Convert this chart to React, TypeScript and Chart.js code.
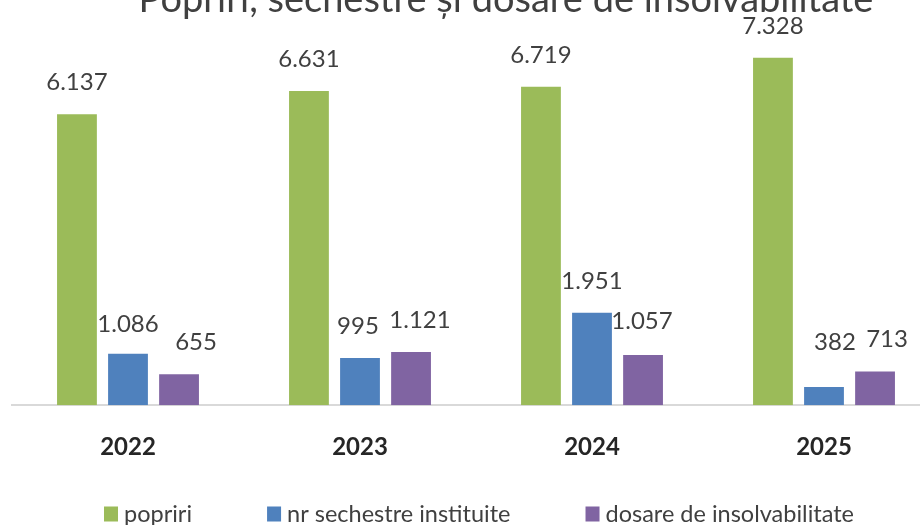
import React, { useEffect, useRef } from "react";
import { Chart, registerables } from "chart.js";

Chart.register(...registerables);

const categories = ["2022", "2023", "2024", "2025"];
const seriesNames = ["popriri", "nr sechestre instituite", "dosare de insolvabilitate"];
const popriri = [6137, 6631, 6719, 7328];
const sechestre = [1086, 995, 1951, 382];
const insolvabilitate = [655, 1121, 1057, 713];
const chartTitle = "Popriri, sechestre și dosare de insolvabilitate";

const colors = ["#9BBB59", "#4F81BD", "#8064A2"];
const FONT = "Lato, 'Open Sans', sans-serif";
const TEXT = "#404040";

const fmt = (v: number) => String(v).replace(/\B(?=(\d{3})+(?!\d))/g, ".");

// small hand nudges for data labels (dx, dy), keyed dataset-index
const labelNudges: Record<string, [number, number]> = {
  "1-0": [0, 2],
  "2-0": [17, 0],
  "1-1": [-2, 0],
  "2-1": [9, 0],
  "2-2": [-1, -2],
  "1-3": [11, -13],
  "2-3": [12, 0],
};

const titlePlugin = {
  id: "cutTitle",
  afterDraw(chart: any) {
    const ctx = chart.ctx;
    ctx.save();
    ctx.font = `38px ${FONT}`;
    ctx.fillStyle = TEXT;
    ctx.textAlign = "center";
    ctx.textBaseline = "alphabetic";
    ctx.fillText(chartTitle, 506, 12);
    ctx.restore();
  },
};

const dataLabelPlugin = {
  id: "dataLabels",
  afterDatasetsDraw(chart: any) {
    const ctx = chart.ctx;
    ctx.save();
    ctx.font = `24px ${FONT}`;
    ctx.fillStyle = TEXT;
    ctx.textAlign = "center";
    ctx.textBaseline = "alphabetic";
    chart.data.datasets.forEach((ds: any, di: number) => {
      const meta = chart.getDatasetMeta(di);
      meta.data.forEach((el: any, i: number) => {
        const n = labelNudges[`${di}-${i}`] || [0, 0];
        ctx.fillText(fmt(ds.data[i]), el.x + n[0], el.y - 24 + n[1]);
      });
    });
    ctx.restore();
  },
};

const legendPlugin = {
  id: "customLegend",
  afterDraw(chart: any) {
    const ctx = chart.ctx;
    ctx.save();
    ctx.font = `23.5px ${FONT}`;
    const box = 14;
    const boxH = 15;
    const gapText = 6;
    const gapItem = 75;
    const widths = seriesNames.map((s) => box + gapText + ctx.measureText(s).width);
    const total = widths.reduce((a, b) => a + b, 0) + gapItem * (seriesNames.length - 1);
    let x = 479 - total / 2;
    const cy = 514;
    seriesNames.forEach((s, i) => {
      ctx.fillStyle = colors[i];
      ctx.fillRect(x, cy - boxH / 2, box, boxH);
      ctx.fillStyle = TEXT;
      ctx.textAlign = "left";
      ctx.textBaseline = "middle";
      ctx.fillText(s, x + box + gapText, cy);
      x += widths[i] + gapItem;
    });
    ctx.restore();
  },
};

export default function App() {
  const ref = useRef<HTMLCanvasElement | null>(null);
  useEffect(() => {
    if (!ref.current) return;
    const chart = new Chart(ref.current, {
      type: "bar",
      data: {
        labels: categories,
        datasets: [popriri, sechestre, insolvabilitate].map((d, i) => ({
          label: seriesNames[i],
          data: d,
          backgroundColor: colors[i],
          borderWidth: 0,
          barPercentage: 0.78,
          categoryPercentage: 0.66,
        })),
      },
      options: {
        responsive: false,
        maintainAspectRatio: false,
        animation: false,
        layout: { padding: { left: 12, right: 0, top: 26, bottom: 35 } },
        plugins: {
          legend: { display: false },
          title: { display: false },
          tooltip: { enabled: false },
        },
        scales: {
          x: {
            grid: { display: false, drawTicks: false },
            border: { display: true, color: "#D9D9D9", width: 2 },
            ticks: {
              font: { family: FONT, size: 24, weight: "bold" },
              color: "#262626",
              padding: 28,
            },
          },
          y: { display: false, min: 0, max: 8000 },
        },
      },
      plugins: [titlePlugin, dataLabelPlugin, legendPlugin],
    });
    return () => chart.destroy();
  }, []);
  return (
    <div
      style={{
        position: "fixed",
        left: 0,
        top: 0,
        width: 920,
        height: 525,
        overflow: "hidden",
        background: "#fff",
      }}
    >
      <canvas ref={ref} width={940} height={525} style={{ width: 940, height: 525 }} />
    </div>
  );
}
